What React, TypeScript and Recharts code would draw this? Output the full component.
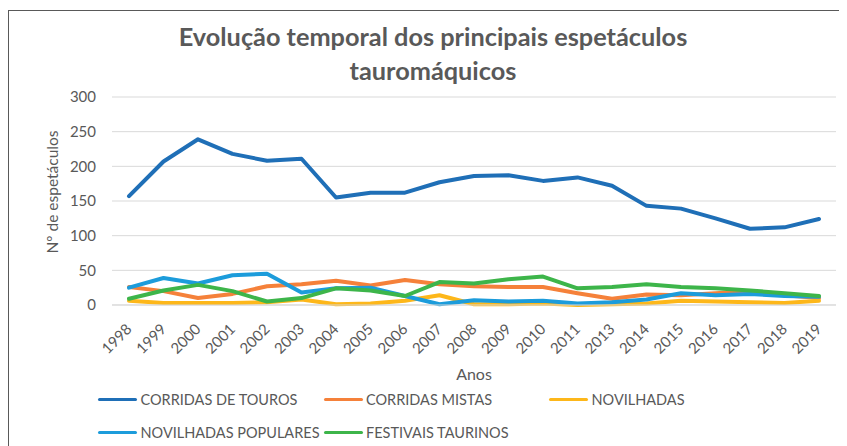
import { CartesianGrid, Line, LineChart, XAxis, YAxis } from "recharts"

const years = [
  "1998", "1999", "2000", "2001", "2002", "2003", "2004", "2005", "2006", "2007", "2008",
  "2009", "2010", "2011", "2013", "2014", "2015", "2016", "2017", "2018", "2019",
]
const corridasTouros = [157, 207, 239, 218, 208, 211, 155, 162, 162, 177, 186, 187, 179, 184, 172, 143, 139, 125, 110, 112, 124]
const corridasMistas = [26, 20, 10, 16, 27, 30, 35, 28, 36, 30, 27, 26, 26, 17, 9, 15, 14, 17, 20, 14, 10]
const novilhadas = [6, 3, 3, 3, 4, 8, 1, 2, 6, 14, 1, 1, 2, 0, 1, 2, 6, 5, 4, 3, 6]
const novilhadasPopulares = [25, 39, 31, 43, 45, 18, 24, 25, 13, 1, 7, 5, 6, 2, 4, 8, 17, 14, 16, 13, 12]
const festivaisTaurinos = [9, 21, 29, 20, 5, 10, 24, 21, 13, 33, 31, 37, 41, 24, 26, 30, 26, 24, 21, 17, 13]
const yTicks = [0, 50, 100, 150, 200, 250, 300]

const series = [
  { key: "touros", name: "CORRIDAS DE TOUROS", color: "#1f6fb7", values: corridasTouros },
  { key: "mistas", name: "CORRIDAS MISTAS", color: "#f5813a", values: corridasMistas },
  { key: "novilhadas", name: "NOVILHADAS", color: "#fdb71a", values: novilhadas },
  { key: "populares", name: "NOVILHADAS POPULARES", color: "#1c9cdb", values: novilhadasPopulares },
  { key: "festivais", name: "FESTIVAIS TAURINOS", color: "#3db54a", values: festivaisTaurinos },
]

const data = years.map((year, i) => {
  const row: Record<string, string | number> = { year }
  series.forEach((s) => (row[s.key] = s.values[i]))
  return row
})

const font = "Lato, 'Open Sans', sans-serif"
const gray = "#595959"

function XTick({ x, y, payload }: any) {
  const ty = y + 21.5
  return (
    <text x={x} y={ty} transform={`rotate(-45 ${x} ${ty})`} textAnchor="end" dy="0.35em"
      fontSize={15} fill={gray} fontFamily={font}>
      {payload.value}
    </text>
  )
}

function YLabel({ viewBox }: any) {
  const x = viewBox.x + 45
  const y = viewBox.y + viewBox.height / 2 - 9
  return (
    <text x={x} y={y} transform={`rotate(-90 ${x} ${y})`} textAnchor="middle" dy="0.35em"
      fontSize={15.5} fill={gray} fontFamily={font}>
      Nº de espetáculos
    </text>
  )
}

function XLabel({ viewBox }: any) {
  const x = viewBox.x + viewBox.width / 2
  return (
    <text x={x} y={366} textAnchor="middle" dy="0.35em" fontSize={16} fill={gray} fontFamily={font}>
      Anos
    </text>
  )
}

export default function App() {
  return (
    <div style={{ position: "relative", width: 839, height: 438, overflow: "hidden", fontFamily: font }}>
      <div style={{ position: "absolute", left: 0, top: 2, width: 900, height: 500,
        borderLeft: "1px solid #595959", borderTop: "1px solid #595959" }} />
      <div style={{ position: "absolute", left: 0, top: 11, width: 850, textAlign: "center",
        fontSize: 25.3, fontWeight: 700, lineHeight: "34px", color: gray }}>
        Evolução temporal dos principais espetáculos<br />tauromáquicos
      </div>
      <LineChart width={839} height={438} data={data} style={{ position: "absolute", left: 0, top: 0 }}
        margin={{ top: 89, right: 11, bottom: 81, left: 0 }}>
        <CartesianGrid vertical={false} stroke="#d9d9d9" />
        <XAxis dataKey="year" interval={0} tickLine={false} axisLine={{ stroke: "#d9d9d9" }}
          tickSize={0} tickMargin={0} padding={{ left: 17, right: 17 }} tick={<XTick />}
          height={60} label={<XLabel />} />
        <YAxis domain={[0, 300]} ticks={yTicks} width={104} tickLine={false} axisLine={false}
          tickMargin={10} tick={{ fontSize: 15, fill: gray, fontFamily: font }} label={<YLabel />} />
        {series.map((s) => (
          <Line key={s.key} dataKey={s.key} name={s.name} stroke={s.color} strokeWidth={4}
            strokeLinecap="round" strokeLinejoin="round" dot={false} activeDot={false}
            isAnimationActive={false} />
        ))}
      </LineChart>
      <div style={{ position: "absolute", left: 90, top: 375, width: 700, display: "flex",
        flexWrap: "wrap", rowGap: 0 }}
      >
        {series.map((s) => (
          <div key={s.key} style={{ width: 225.5, height: 33, display: "flex", alignItems: "center",
            fontSize: 14.5, color: gray, whiteSpace: "nowrap" }}>
            <span style={{ display: "inline-block", width: 39, height: 3.5, borderRadius: 2,
              background: s.color, marginRight: 3.5, flexShrink: 0 }} />
            {s.name}
          </div>
        ))}
      </div>
    </div>
  )
}
